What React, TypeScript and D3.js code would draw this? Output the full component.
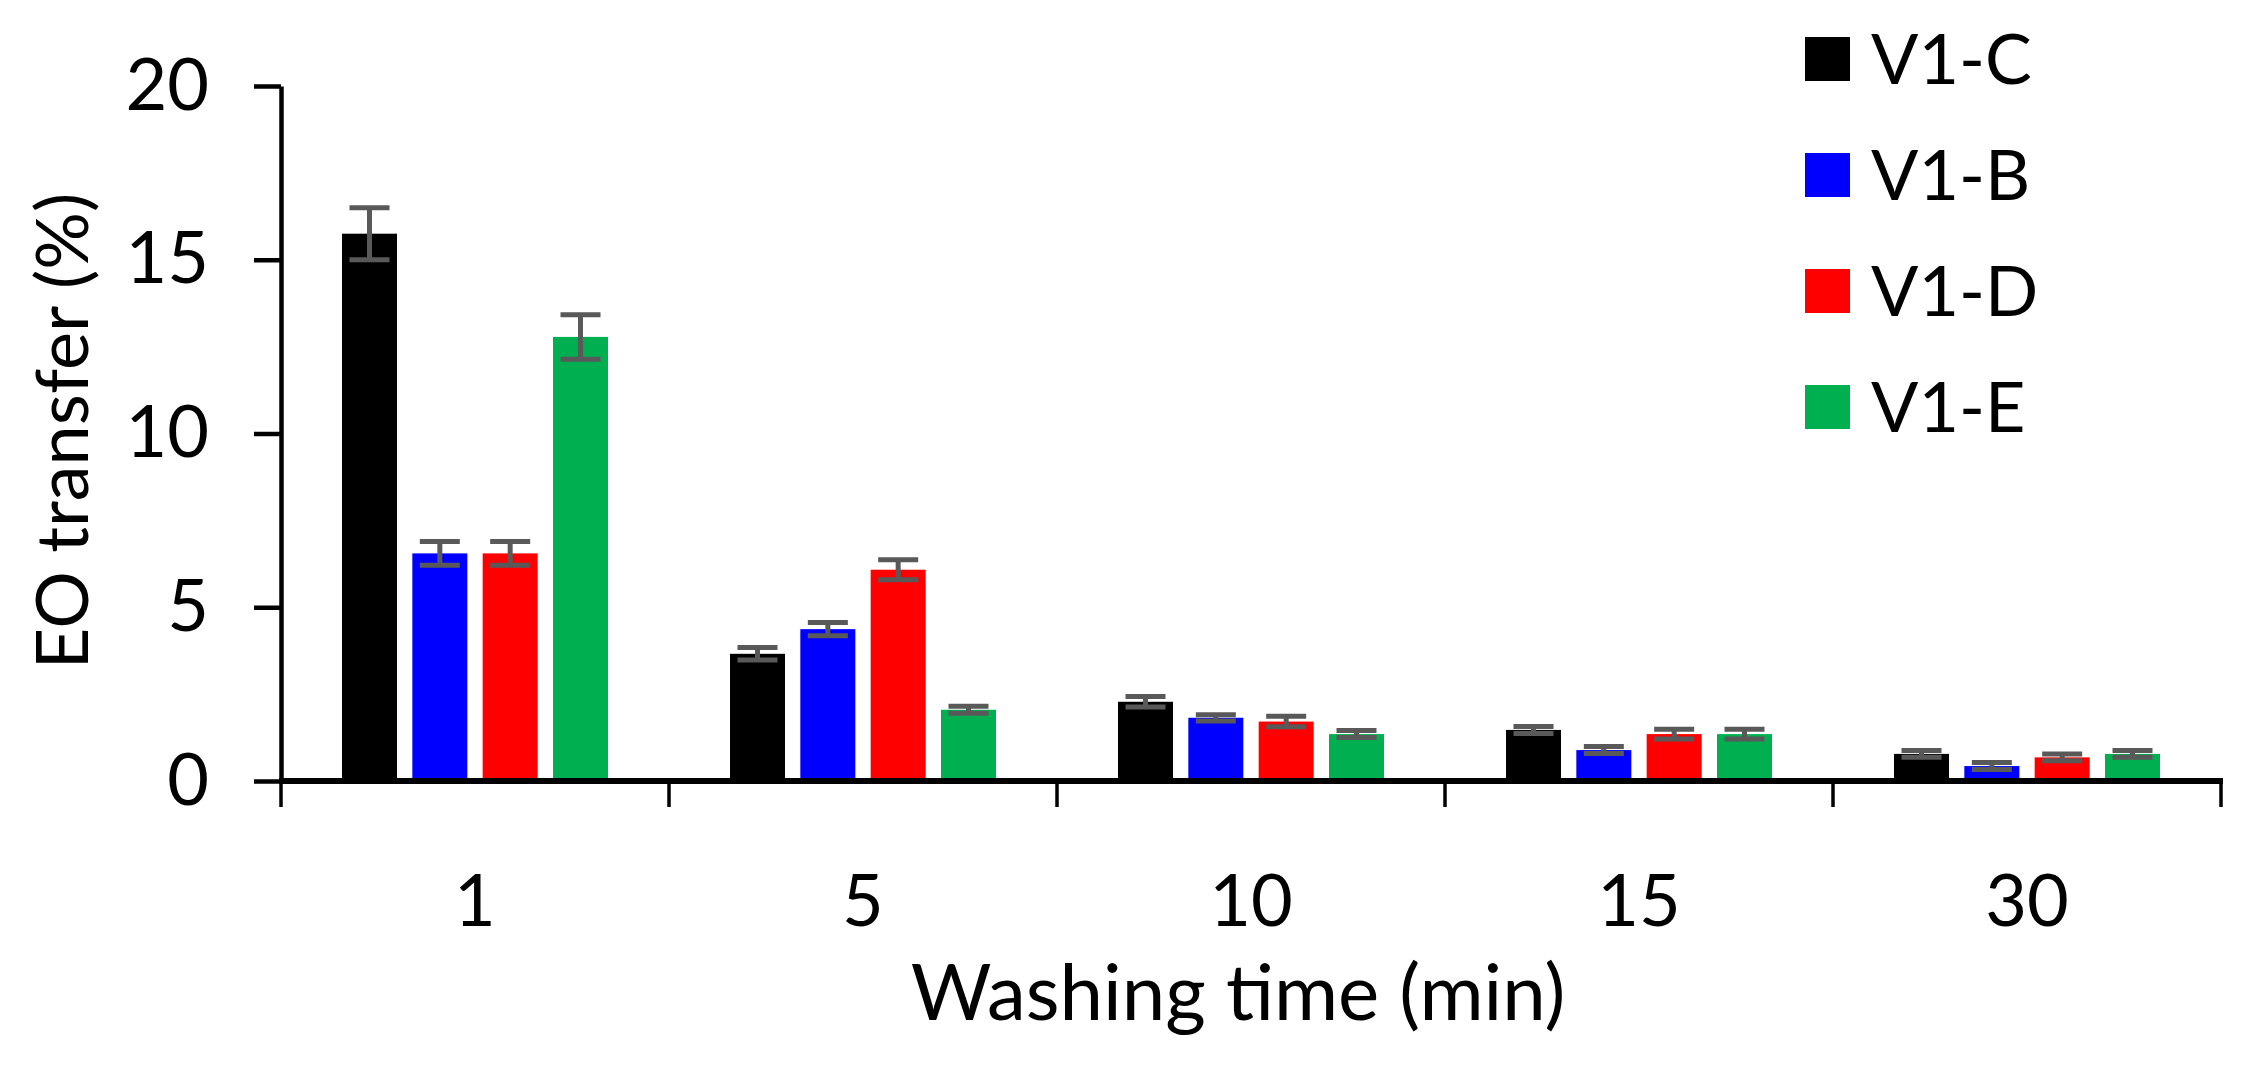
import { useEffect, useRef } from 'react';
import * as d3 from 'd3';

const categories = ['1', '5', '10', '15', '30'];
const seriesNames = ['V1-C', 'V1-B', 'V1-D', 'V1-E'];
const seriesColors = ['#000000', '#0000ff', '#ff0000', '#00b050'];

// values per series, one entry per washing time
const valuesC = [15.75, 3.66, 2.28, 1.47, 0.78];
const valuesB = [6.55, 4.37, 1.82, 0.89, 0.43];
const valuesD = [6.55, 6.08, 1.71, 1.35, 0.68];
const valuesE = [12.78, 2.05, 1.35, 1.35, 0.78];

const errorsC = [0.75, 0.18, 0.15, 0.1, 0.1];
const errorsB = [0.34, 0.19, 0.09, 0.1, 0.1];
const errorsD = [0.34, 0.29, 0.15, 0.14, 0.1];
const errorsE = [0.64, 0.1, 0.1, 0.14, 0.1];

const yTicks = [0, 5, 10, 15, 20];

export default function App() {
  const svgRef = useRef<SVGSVGElement>(null);

  useEffect(() => {
    if (!svgRef.current) return;
    document.body.style.margin = '0';

    const width = 2261;
    const height = 1080;
    const font = 'Lato, "Open Sans", sans-serif';

    const svg = d3.select(svgRef.current).attr('width', width).attr('height', height);
    svg.selectAll('*').remove();

    const values = [valuesC, valuesB, valuesD, valuesE];
    const errors = [errorsC, errorsB, errorsD, errorsE];

    const xScale = d3.scaleBand().domain(categories).range([281, 2221]).padding(0);
    const inner = d3
      .scaleBand()
      .domain(seriesNames)
      .range([61, xScale.bandwidth() - 61])
      .paddingInner(0.218)
      .paddingOuter(0);
    const yScale = d3.scaleLinear().domain([0, 20]).range([781, 86]);

    // Bars
    seriesNames.forEach((name, si) => {
      svg
        .append('g')
        .selectAll('rect')
        .data(categories)
        .enter()
        .append('rect')
        .attr('x', (c) => (xScale(c) || 0) + (inner(name) || 0))
        .attr('y', (_, i) => yScale(values[si][i]))
        .attr('width', inner.bandwidth())
        .attr('height', (_, i) => yScale(0) - yScale(values[si][i]))
        .attr('fill', seriesColors[si]);
    });

    // Error bars
    seriesNames.forEach((name, si) => {
      categories.forEach((c, i) => {
        const cx = (xScale(c) || 0) + (inner(name) || 0) + inner.bandwidth() / 2;
        const hi = yScale(values[si][i] + errors[si][i]);
        const lo = yScale(values[si][i] - errors[si][i]);
        const g = svg.append('g').attr('stroke', '#595959').attr('stroke-width', 5);
        g.append('line').attr('x1', cx).attr('x2', cx).attr('y1', hi).attr('y2', lo);
        g.append('line').attr('x1', cx - 20).attr('x2', cx + 20).attr('y1', hi).attr('y2', hi);
        g.append('line').attr('x1', cx - 20).attr('x2', cx + 20).attr('y1', lo).attr('y2', lo);
      });
    });

    // Y axis
    const yAxis = svg
      .append('g')
      .attr('transform', 'translate(281, 0)')
      .call(d3.axisLeft(yScale).tickValues(yTicks).tickSize(27).tickSizeOuter(0).tickPadding(45));
    yAxis.select('.domain').attr('stroke', '#000').attr('stroke-width', 4.5);
    yAxis.selectAll('.tick line').attr('stroke', '#000').attr('stroke-width', 4.5);
    yAxis
      .selectAll('.tick text')
      .style('font-family', font)
      .style('font-size', '72px')
      .attr('fill', '#000');

    // X axis
    const x0 = xScale.range()[0];
    const x1 = xScale.range()[1];
    svg
      .append('line')
      .attr('x1', x0 - 2)
      .attr('x2', x1 + 2)
      .attr('y1', yScale(0))
      .attr('y2', yScale(0))
      .attr('stroke', '#000')
      .attr('stroke-width', 6);
    const boundaries = [...categories.map((c) => xScale(c) || 0), x1];
    svg
      .append('g')
      .selectAll('line')
      .data(boundaries)
      .enter()
      .append('line')
      .attr('x1', (d) => d)
      .attr('x2', (d) => d)
      .attr('y1', yScale(0))
      .attr('y2', yScale(0) + 26)
      .attr('stroke', '#000')
      .attr('stroke-width', 3.5);
    svg
      .append('g')
      .selectAll('text')
      .data(categories)
      .enter()
      .append('text')
      .attr('x', (c) => (xScale(c) || 0) + xScale.bandwidth() / 2)
      .attr('y', 926)
      .attr('text-anchor', 'middle')
      .style('font-family', font)
      .style('font-size', '72px')
      .text((c) => c);

    // Axis titles
    svg
      .append('text')
      .attr('x', 1238)
      .attr('y', 1020)
      .attr('text-anchor', 'middle')
      .style('font-family', font)
      .style('font-size', '78px')
      .text('Washing time (min)');
    svg
      .append('text')
      .attr('transform', 'translate(88, 431) rotate(-90)')
      .attr('text-anchor', 'middle')
      .style('font-family', font)
      .style('font-size', '72px')
      .text('EO transfer (%)');

    // Legend
    const legend = svg
      .append('g')
      .selectAll('g')
      .data(seriesNames)
      .enter()
      .append('g')
      .attr('transform', (_, i) => `translate(1805, ${59 + i * 116})`);
    legend
      .append('rect')
      .attr('x', 0)
      .attr('y', -22)
      .attr('width', 45)
      .attr('height', 44)
      .attr('fill', (_, i) => seriesColors[i]);
    legend
      .append('text')
      .attr('x', 66)
      .attr('y', 0)
      .attr('dy', '0.36em')
      .style('font-family', font)
      .style('font-size', '70px')
      .text((d) => d);
  }, []);

  return <svg ref={svgRef} style={{ display: 'block', background: '#fff' }} />;
}
